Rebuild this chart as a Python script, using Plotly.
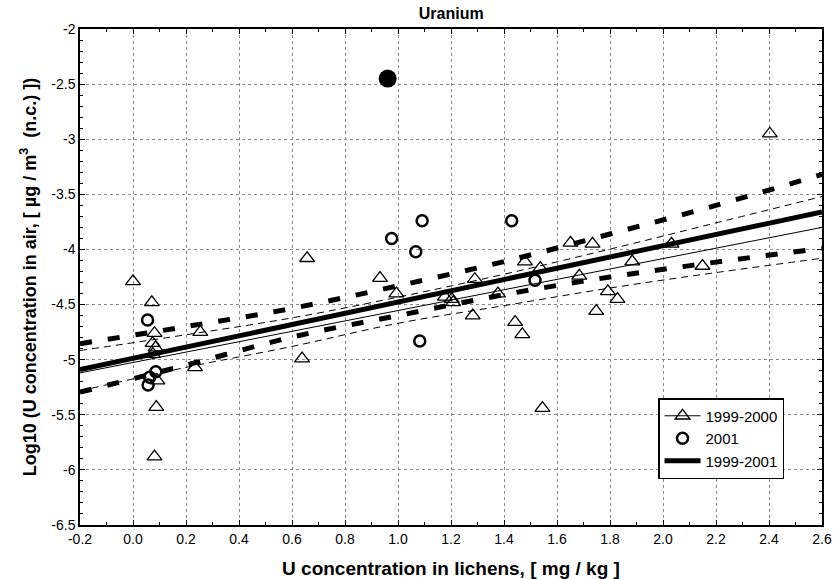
import plotly.graph_objects as go

# --- data ---
tri_x = [0.00, 0.071, 0.081, 0.074, 0.085, 0.075, 0.092, 0.088, 0.081, 0.254, 0.234,
         0.638, 0.657, 0.932, 0.994, 1.177, 1.203, 1.208, 1.290, 1.282, 1.377, 1.479,
         1.442, 1.469, 1.537, 1.545, 1.651, 1.734, 1.684, 1.792, 1.828, 1.748, 1.884,
         2.032, 2.149, 2.403]
tri_y = [-4.29, -4.48, -4.76, -4.85, -4.89, -4.95, -5.19, -5.43, -5.88, -4.75, -5.07,
         -4.99, -4.08, -4.26, -4.40, -4.43, -4.45, -4.48, -4.27, -4.60, -4.40, -4.11,
         -4.66, -4.77, -4.17, -5.44, -3.94, -3.95, -4.24, -4.38, -4.45, -4.56, -4.11,
         -3.95, -4.15, -2.95]

cir_x = [0.055, 0.086, 0.063, 0.057, 0.976, 1.067, 1.091, 1.082, 1.429, 1.517]
cir_y = [-4.64, -5.11, -5.16, -5.23, -3.90, -4.02, -3.74, -4.83, -3.74, -4.28]

out_x = [0.961]
out_y = [-2.45]

fit_x = [-0.2, 2.6]
fit_all_y = [-5.09, -3.66]      # 1999-2001 regression (thick)
fit_old_y = [-5.12, -3.80]      # 1999-2000 regression (thin)

band_x = [-0.2, 0.2, 0.6, 1.0, 1.4, 1.8, 2.2, 2.6]
all_up = [-4.855, -4.70, -4.535, -4.33, -4.11, -3.86, -3.60, -3.32]
all_lo = [-5.295, -5.05, -4.795, -4.60, -4.41, -4.25, -4.115, -3.99]
old_up = [-4.917, -4.774, -4.621, -4.433, -4.225, -3.997, -3.759, -3.52]
old_lo = [-5.283, -5.07, -4.88, -4.67, -4.51, -4.35, -4.21, -4.08]

x_ticks = [-0.2, 0.0, 0.2, 0.4, 0.6, 0.8, 1.0, 1.2, 1.4, 1.6, 1.8, 2.0, 2.2, 2.4, 2.6]
x_labels = ["-0.2", "0.0", "0.2", "0.4", "0.6", "0.8", "1.0", "1.2", "1.4", "1.6",
            "1.8", "2.0", "2.2", "2.4", "2.6"]
y_ticks = [-6.5, -6, -5.5, -5, -4.5, -4, -3.5, -3, -2.5, -2]
y_labels = ["-6.5", "-6", "-5.5", "-5", "-4.5", "-4", "-3.5", "-3", "-2.5", "-2"]

legend_names = ["1999-2000", "2001", "1999-2001"]

FONT = "Liberation Sans, Arial, sans-serif"

fig = go.Figure()

# confidence bands
for yy in (old_up, old_lo):
    fig.add_trace(go.Scatter(x=band_x, y=yy, mode="lines", line_shape="spline",
                             line=dict(color="black", width=1, dash="7px,5px"),
                             showlegend=False, hoverinfo="skip"))
for yy in (all_up, all_lo):
    fig.add_trace(go.Scatter(x=band_x, y=yy, mode="lines", line_shape="spline",
                             line=dict(color="black", width=5, dash="12px,16px"),
                             showlegend=False, hoverinfo="skip"))

# regression lines
fig.add_trace(go.Scatter(x=fit_x, y=fit_old_y, mode="lines",
                         line=dict(color="black", width=1), showlegend=False))
fig.add_trace(go.Scatter(x=fit_x, y=fit_all_y, mode="lines",
                         line=dict(color="black", width=5), showlegend=False))

# points
fig.add_trace(go.Scatter(x=tri_x, y=tri_y, mode="markers",
                         marker=dict(symbol="triangle-up-open", size=13, color="black",
                                     line=dict(width=1.3, color="black")),
                         showlegend=False))
fig.add_trace(go.Scatter(x=cir_x, y=cir_y, mode="markers",
                         marker=dict(symbol="circle-open", size=11, color="black",
                                     line=dict(width=2.5, color="black")),
                         showlegend=False))
fig.add_trace(go.Scatter(x=out_x, y=out_y, mode="markers",
                         marker=dict(symbol="circle", size=18, color="black"),
                         showlegend=False))

# legend entries
fig.add_trace(go.Scatter(x=[None], y=[None], mode="lines+markers", name=legend_names[0],
                         line=dict(color="black", width=1),
                         marker=dict(symbol="triangle-up-open", size=13, color="black",
                                     line=dict(width=1.3, color="black"))))
fig.add_trace(go.Scatter(x=[None], y=[None], mode="markers", name=legend_names[1],
                         marker=dict(symbol="circle-open", size=11, color="black",
                                     line=dict(width=2.5, color="black"))))
fig.add_trace(go.Scatter(x=[None], y=[None], mode="lines", name=legend_names[2],
                         line=dict(color="black", width=5)))

axis_common = dict(
    showline=True, linecolor="black", linewidth=1.5, mirror="allticks",
    ticks="inside", ticklen=5, tickcolor="black", tickwidth=1,
    showgrid=True, gridcolor="#8a8a8a", griddash="dot", gridwidth=1,
    zeroline=False, tickfont=dict(family=FONT, size=14, color="black"),
    automargin=False, ticklabeloverflow="allow",
)

fig.update_xaxes(range=[-0.2, 2.6], tickvals=x_ticks, ticktext=x_labels,
                 minor=dict(dtick=0.1, ticks="inside", ticklen=3, tickcolor="black",
                            showgrid=False),
                 title=dict(text="U concentration in lichens, [ mg / kg ]",
                            font=dict(family=FONT, size=19, color="black", weight="bold"),
                            standoff=17),
                 **axis_common)
fig.update_yaxes(range=[-6.5, -2], tickvals=y_ticks, ticktext=y_labels,
                 minor=dict(dtick=0.1, ticks="inside", ticklen=3, tickcolor="black",
                            showgrid=False),
                 title=dict(text="Log10 (U concentration in air, [ µg / m<sup>3</sup>  (n.c.) ])",
                            font=dict(family=FONT, size=18, color="black", weight="bold"),
                            standoff=10),
                 **axis_common)

fig.update_layout(
    width=834, height=579,
    margin=dict(l=80, r=12, t=29, b=54),
    paper_bgcolor="white", plot_bgcolor="white",
    title=dict(text="<b>Uranium</b>", x=0.541, xanchor="center", y=0.976, yanchor="middle",
               font=dict(family=FONT, size=16, color="black")),
    legend=dict(x=0.779, y=0.256, xanchor="left", yanchor="top",
                bgcolor="white", bordercolor="black", borderwidth=1.5,
                font=dict(family=FONT, size=15, color="black"),
                tracegroupgap=0, itemwidth=36),
    font=dict(family=FONT, color="black"),
)

fig.write_html("out.html", config={"displayModeBar": False},
               post_script="document.body.style.margin='0';document.body.style.overflow='hidden';")
